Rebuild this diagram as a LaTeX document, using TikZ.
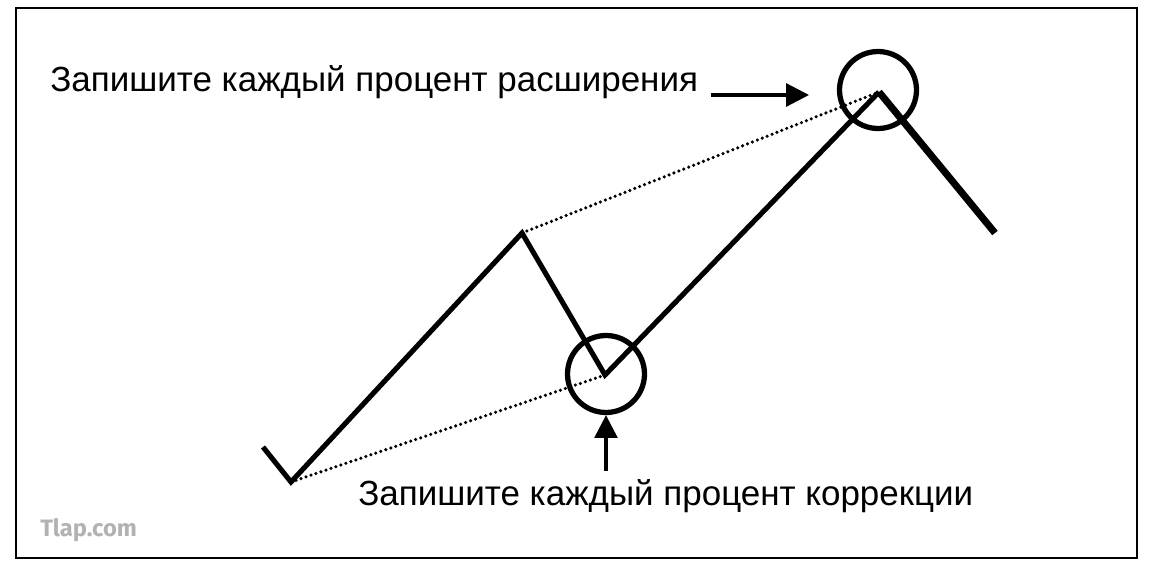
\documentclass[tikz,border=0pt]{standalone}
\usepackage{fontspec}
\setmainfont{Liberation Sans}
\newfontfamily\markfont{Fira Sans}
\usetikzlibrary{arrows.meta,positioning}

\begin{document}
\begin{tikzpicture}[x=0.02cm,y=-0.02cm,
  wave/.style={line width=2.9pt,line join=miter},
  trend/.style={line width=2pt,dash pattern=on 0pt off 3pt,line cap=round},
  ring/.style={circle,draw,line width=3pt,minimum size=1.54cm,inner sep=0pt},
  lbl/.style={font=\fontsize{19.9}{24}\selectfont,inner sep=0pt},
  pointer/.style={line width=1.8pt,-{Triangle[length=13pt,width=13pt]}}]
\useasboundingbox (0,0) rectangle (1152,574);
\draw[line width=1.2pt] (16,8) rectangle (1137,558);
% turning points of the swing
\coordinate (s0) at (263,447);
\coordinate (s1) at (291,482);
\coordinate (s2) at (522,233);
\coordinate (s3) at (605,375);
\coordinate (s4) at (879,92);
\coordinate (s5) at (995,233);
\draw[trend] (s1) -- (s3);
\draw[trend] (s2) -- (s4);
\draw[wave] (s0) -- (s1) -- (s2) -- (s3) -- (s4);
\draw[line width=4pt] (s4) -- (s5);
\node[ring] (extop) at (878,90) {};
\node[ring] (corbot) at (606,374) {};
% labels
\node[lbl,anchor=base west] (exptxt) at (50,92) {Запишите каждый процент расширения};
\node[lbl,anchor=base west] (cortxt) at (358,505) {Запишите каждый процент коррекции};
\draw[pointer] ([shift={(13,3)}]exptxt.base east) -- ([shift={(-69,5)}]extop.center);
\coordinate (corfoot) at (corbot.south |- cortxt.north);
\draw[pointer] ([yshift=0.16cm]corfoot) -- (corbot.south);
\node[font=\markfont\bfseries\fontsize{13.5}{15}\selectfont,text=black!30,anchor=west,inner sep=0pt] (mark) at (40,530) {Tlap.com};
\end{tikzpicture}
\end{document}
